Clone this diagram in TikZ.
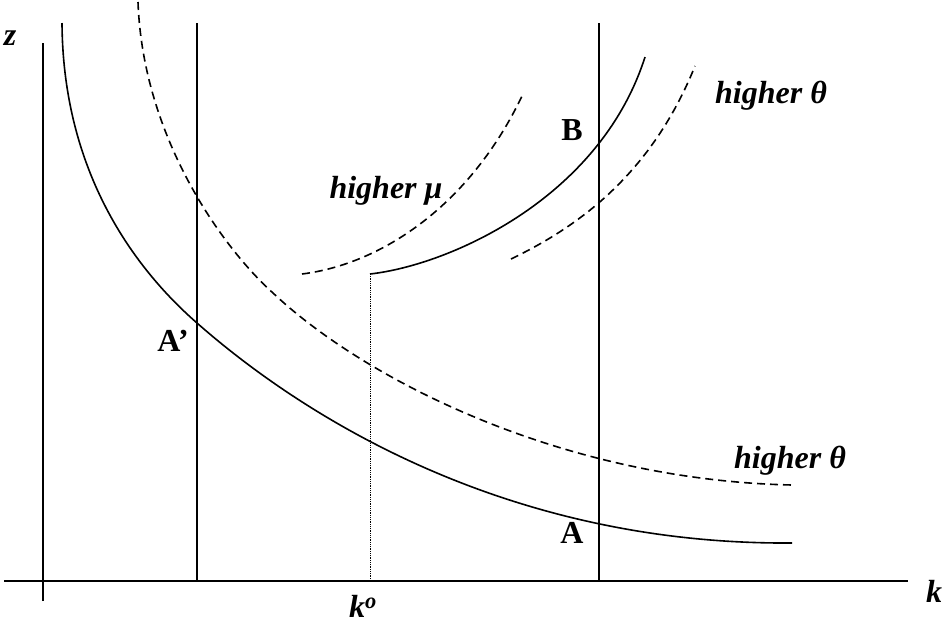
\documentclass[tikz,border=0pt]{standalone}
\usepackage{fontspec}
\setmainfont{Liberation Serif}
\begin{document}
\begin{tikzpicture}[x=1pt,y=-1pt,
  curve/.style={line width=1.6pt},
  dcurve/.style={line width=1.6pt,dash pattern=on 8pt off 5pt},
  vline/.style={line width=1.8pt},
  lbl/.style={font=\fontsize{32}{32}\selectfont\bfseries\itshape,inner sep=0pt},
  blbl/.style={font=\fontsize{32}{32}\selectfont\bfseries,inner sep=0pt}]
\useasboundingbox (0,0) rectangle (943,625);
% axes
\coordinate (xa0) at (4,581); \coordinate (xa1) at (908,581);
\coordinate (ya0) at (43,601); \coordinate (ya1) at (43,43);
\draw[vline] (xa0) -- (xa1);
\draw[vline] (ya0) -- (ya1);
% vertical lines
\coordinate (v1t) at (197,23); \coordinate (v1b) at (197,581);
\coordinate (v2t) at (599,23); \coordinate (v2b) at (599,581);
\draw[vline] (v1t) -- (v1b);
\draw[vline] (v2t) -- (v2b);
% lower solid curve
\coordinate (l0) at (62,23); \coordinate (lA1) at (197,323); \coordinate (l1) at (792,543);
\draw[curve] (l0) .. controls (63,180) and (142,275) .. (lA1)
                  .. controls (297,411) and (500,545) .. (l1);
% upper dashed curve
\coordinate (d0) at (138,2); \coordinate (dm) at (273,293); \coordinate (d1) at (792,485);
\draw[dcurve] (d0) .. controls (143,140) and (225,250) .. (dm)
                   .. controls (363,378) and (560,480) .. (d1);
% upper solid curve
\coordinate (ko) at (370,274); \coordinate (u1) at (645,57);
\draw[curve] (ko) .. controls (450,265) and (600,198) .. (u1);
% left dashed
\coordinate (ld0) at (302,274); \coordinate (ld1) at (522,96);
\draw[dcurve] (ld0) .. controls (382,264) and (470,205) .. (ld1);
% right dashed
\coordinate (rd0) at (511,259); \coordinate (rd1) at (695,66);
\draw[dcurve] (rd0) .. controls (571,230) and (649,180) .. (rd1);
% dotted
\coordinate (kob) at (370,581);
\draw[densely dotted,line width=0.8pt] (ko) -- (kob);
% labels
\node[lbl] (lz) at (10,38) {z};
\node[lbl] (lk) at (934,591) {k};
\node[lbl] (lko) at (363,606) {k\textsuperscript{o}};
\node[blbl] (tA1) at (173,341) {A’};
\node[blbl] (tA) at (572,533) {A};
\node[blbl] (tB) at (572,130) {B};
\node[lbl,anchor=base] (lmu) at (386,198) {higher μ};
\node[lbl,anchor=base] (lth1) at (771,103) {higher θ};
\node[lbl,anchor=base] (lth2) at (790,468) {higher θ};
\end{tikzpicture}
\end{document}
